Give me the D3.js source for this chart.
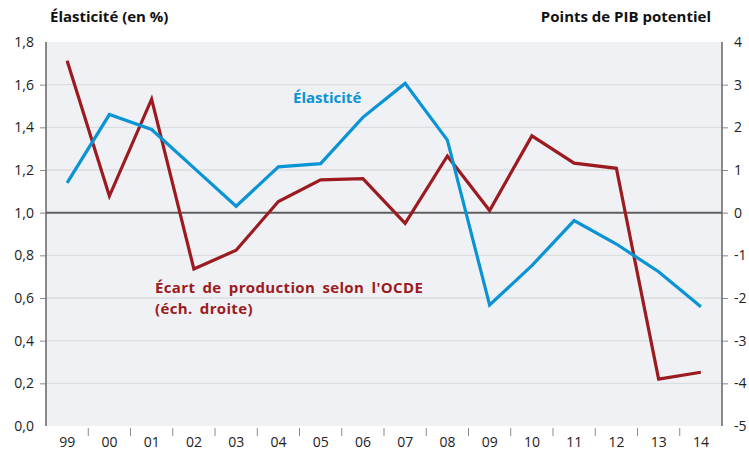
<!DOCTYPE html>
<html>
<head>
<meta charset="utf-8">
<script src="https://cdn.jsdelivr.net/npm/d3@7"></script>
<style>
  body { margin: 0; background: #fff; }
  svg text { font-family: "Open Sans", "Noto Sans", sans-serif; }
</style>
</head>
<body>
<svg id="graphique" width="749" height="452"></svg>
<script>
const annees = ["99", "00", "01", "02", "03", "04", "05", "06", "07", "08", "09", "10", "11", "12", "13", "14"];
const elasticite = [1.14, 1.46, 1.39, 1.21, 1.03, 1.215, 1.23, 1.447, 1.606, 1.34, 0.567, 0.752, 0.963, 0.853, 0.723, 0.559];
const ecartProduction = [3.56, 0.39, 2.66, -1.32, -0.88, 0.26, 0.77, 0.8, -0.25, 1.33, 0.05, 1.8, 1.16, 1.04, -3.9, -3.74];
const ticksGauche = [0, 0.2, 0.4, 0.6, 0.8, 1.0, 1.2, 1.4, 1.6, 1.8];
const ticksDroite = [-5, -4, -3, -2, -1, 0, 1, 2, 3, 4];

const svg = d3.select("#graphique");

const margin = { top: 42, right: 27, bottom: 26, left: 46 };
const width = 749;
const height = 452;

const x = d3.scaleBand()
    .domain(annees)
    .range([margin.left, width - margin.right]);

const yG = d3.scaleLinear()
    .domain([0, 1.8])
    .range([height - margin.bottom, margin.top]);

const yD = d3.scaleLinear()
    .domain([-5, 4])
    .range([height - margin.bottom, margin.top]);

const virgule = d3.format(".1f");

// fond
svg.append("rect")
    .attr("x", margin.left)
    .attr("y", margin.top)
    .attr("width", width - margin.left - margin.right)
    .attr("height", height - margin.top - margin.bottom)
    .attr("fill", "#f0f1f4");

// grille
svg.append("g")
    .selectAll("line")
    .data(ticksGauche.filter(d => d > 0 && d < 1.8 && d !== 1.0))
    .enter()
    .append("line")
    .attr("x1", margin.left)
    .attr("x2", width - margin.right)
    .attr("y1", d => yG(d))
    .attr("y2", d => yG(d))
    .attr("stroke", "#dcdde1")
    .attr("stroke-width", 1.3);

// axe gauche
const axeG = svg.append("g")
    .attr("transform", `translate(${margin.left},0)`)
    .call(d3.axisLeft(yG)
        .tickValues(ticksGauche)
        .tickSize(6)
        .tickPadding(6)
        .tickFormat(d => virgule(d).replace(".", ",")));

// axe droit
const axeD = svg.append("g")
    .attr("transform", `translate(${width - margin.right},0)`)
    .call(d3.axisRight(yD)
        .tickValues(ticksDroite)
        .tickSize(6)
        .tickPadding(6)
        .tickFormat(d => String(d)));

[axeG, axeD].forEach(axe => {
    axe.select(".domain").remove();
    axe.selectAll(".tick line").attr("stroke", "#8a8a8a");
    axe.selectAll(".tick text")
        .attr("fill", "#222")
        .style("font-size", "14px");
    axe.selectAll(".tick")
        .filter(d => d === 1.8 || d === 4 || d === 0 && axe === axeG || d === -5)
        .select("line").remove();
});

// lignes verticales des axes
[margin.left, width - margin.right].forEach(px => {
    svg.append("line")
        .attr("x1", px)
        .attr("x2", px)
        .attr("y1", margin.top)
        .attr("y2", height - margin.bottom)
        .attr("stroke", "#6e6e6e")
        .attr("stroke-width", 1.6);
});

// axe du bas
const axeX = svg.append("g")
    .attr("transform", `translate(0,${height - margin.bottom})`)
    .call(d3.axisBottom(x).tickSize(0).tickPadding(11));
axeX.select(".domain").remove();
axeX.selectAll(".tick text")
    .attr("fill", "#222")
    .style("font-size", "14px");

svg.append("g")
    .selectAll("line")
    .data(annees.slice(1))
    .enter()
    .append("line")
    .attr("x1", d => x(d))
    .attr("x2", d => x(d))
    .attr("y1", height - margin.bottom + 2)
    .attr("y2", height - margin.bottom + 10)
    .attr("stroke", "#8a8a8a");

// ligne du zéro
svg.append("line")
    .attr("x1", margin.left)
    .attr("x2", width - margin.right)
    .attr("y1", yG(1.0))
    .attr("y2", yG(1.0))
    .attr("stroke", "#5f5f5f")
    .attr("stroke-width", 2);

// séries
const cx = d => x(d) + x.bandwidth() / 2;

svg.append("path")
    .datum(annees)
    .attr("fill", "none")
    .attr("stroke", "#9b1b20")
    .attr("stroke-width", 3.2)
    .attr("d", d3.line()
        .x(d => cx(d))
        .y((d, i) => yD(ecartProduction[i])));

svg.append("path")
    .datum(annees)
    .attr("fill", "none")
    .attr("stroke", "#0a93d5")
    .attr("stroke-width", 3.2)
    .attr("d", d3.line()
        .x(d => cx(d))
        .y((d, i) => yG(elasticite[i])));

// étiquettes
svg.append("text")
    .attr("x", 293)
    .attr("y", 103)
    .attr("fill", "#0a93d5")
    .style("font-size", "15px")
    .style("font-weight", "bold")
    .text("Élasticité");

svg.append("text")
    .attr("x", 155)
    .attr("y", 293)
    .attr("fill", "#9b1b20")
    .style("font-size", "15px")
    .style("font-weight", "bold")
    .style("letter-spacing", "0.35px")
    .style("word-spacing", "3px")
    .text("Écart de production selon l'OCDE");

svg.append("text")
    .attr("x", 155)
    .attr("y", 314)
    .attr("fill", "#9b1b20")
    .style("font-size", "15px")
    .style("font-weight", "bold")
    .style("letter-spacing", "0.35px")
    .style("word-spacing", "3px")
    .text("(éch. droite)");

svg.append("text")
    .attr("x", 50)
    .attr("y", 22)
    .attr("fill", "#111")
    .style("font-size", "15px")
    .style("font-weight", "bold")
    .text("Élasticité (en %)");

svg.append("text")
    .attr("x", 711)
    .attr("y", 22)
    .attr("text-anchor", "end")
    .attr("fill", "#111")
    .style("font-size", "15px")
    .style("font-weight", "bold")
    .text("Points de PIB potentiel");
</script>
</body>
</html>
